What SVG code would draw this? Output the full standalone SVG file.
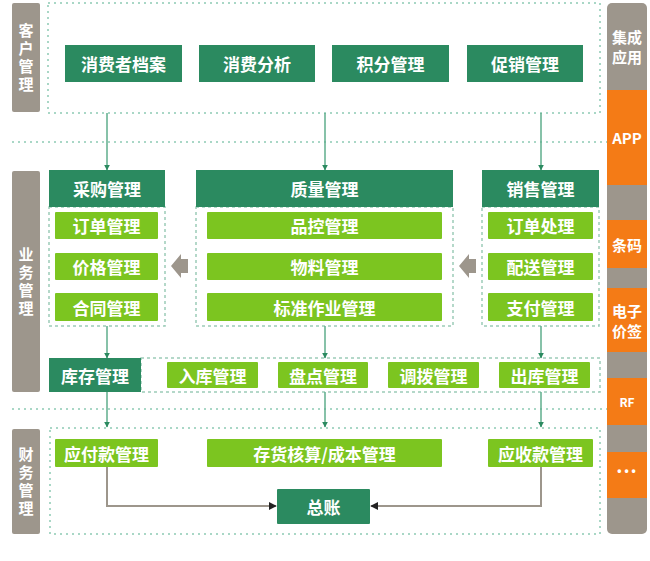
<svg xmlns="http://www.w3.org/2000/svg" width="650" height="561" viewBox="0 0 650 561">
<defs>
<style>
.dk{fill:#2b8a60}
.lt{fill:#7cc520}
.gr{fill:#9d968c}
.or{fill:#f47b16}
.t{font-family:"Noto Sans CJK SC","Noto Sans",sans-serif;font-weight:bold;fill:#fff;text-anchor:middle;dominant-baseline:central}
.b{font-size:17px}
.s{font-size:17px}
.v{font-size:15px;writing-mode:vertical-rl;letter-spacing:3px}
.r{font-size:15px}
.dot{fill:none;stroke:#a9d7c6;stroke-width:2;stroke-dasharray:2,4}
.dash{fill:none;stroke:#9ccbb8;stroke-width:1.5;stroke-dasharray:3,3}
.gl{stroke:#5fae8c;stroke-width:1.5;fill:none}
.fl{stroke:#9d968c;stroke-width:2;fill:none}
</style>
<marker id="ga" viewBox="0 0 10 10" refX="9" refY="5" markerWidth="6" markerHeight="6" orient="auto" markerUnits="userSpaceOnUse"><path d="M0,0L10,5L0,10z" fill="#2b8a60"/></marker>
<marker id="ka" viewBox="0 0 10 10" refX="9" refY="5" markerWidth="8" markerHeight="8" orient="auto" markerUnits="userSpaceOnUse"><path d="M0,0L10,5L0,10z" fill="#222"/></marker>
</defs>
<rect width="650" height="561" fill="#fff"/>

<!-- section frames -->
<g id="frames">
<rect class="dot" x="48" y="3" width="552" height="110"/>
<line class="dot" x1="12" y1="142" x2="607" y2="142"/>
<line class="dot" x1="12" y1="409" x2="607" y2="409"/>
<rect class="dot" x="50" y="428" width="550" height="106"/>
<rect class="dash" x="49" y="207" width="116" height="119"/>
<rect class="dash" x="196" y="207" width="257" height="119"/>
<rect class="dash" x="482" y="207" width="117" height="119"/>
<rect class="dash" x="141" y="358" width="459" height="34"/>
</g>

<!-- left labels -->
<g id="lbl-customer"><rect class="gr" x="12" y="3" width="28" height="109" rx="2"/>
<text class="t v" x="26" y="59">客户管理</text></g>
<g id="lbl-business"><rect class="gr" x="12" y="171" width="28" height="221" rx="2"/>
<text class="t v" x="26" y="283">业务管理</text></g>
<g id="lbl-finance"><rect class="gr" x="12" y="429" width="28" height="105" rx="2"/>
<text class="t v" x="26" y="483">财务管理</text></g>

<!-- right column -->
<g id="right-col">
<rect class="gr" x="607" y="3" width="40" height="531" rx="5"/>
<rect class="or" x="607" y="90" width="40" height="95"/>
<rect class="or" x="607" y="220" width="40" height="48"/>
<rect class="or" x="607" y="288" width="40" height="64"/>
<rect class="or" x="607" y="378" width="40" height="47"/>
<rect class="or" x="607" y="452" width="40" height="46"/>
<text class="t r" x="627" y="36">集成</text>
<text class="t r" x="627" y="56">应用</text>
<text class="t r" x="627" y="137">APP</text>
<text class="t r" x="627" y="244">条码</text>
<text class="t r" x="627" y="310">电子</text>
<text class="t r" x="627" y="330">价签</text>
<text class="t" style="font-size:12px" x="627" y="401">RF</text>
<text class="t" style="font-size:12px;font-family:'Liberation Sans',sans-serif;letter-spacing:3px" x="628" y="471">•••</text>
</g>

<!-- customer nodes -->
<g id="n-archive"><rect class="dk" x="65" y="45" width="117" height="37"/><text class="t b" x="123.5" y="63.5">消费者档案</text></g>
<g id="n-analysis"><rect class="dk" x="199" y="45" width="116" height="37"/><text class="t b" x="257" y="63.5">消费分析</text></g>
<g id="n-points"><rect class="dk" x="332" y="45" width="117" height="37"/><text class="t b" x="390.5" y="63.5">积分管理</text></g>
<g id="n-promo"><rect class="dk" x="467" y="45" width="116" height="37"/><text class="t b" x="525" y="63.5">促销管理</text></g>

<!-- business nodes -->
<g id="n-purchase"><rect class="dk" x="49" y="170" width="116" height="37"/><text class="t b" x="107" y="188.5">采购管理</text></g>
<g id="n-p-order"><rect class="lt" x="55" y="212" width="103" height="27" rx="1"/><text class="t s" x="106.5" y="225.5">订单管理</text></g>
<g id="n-p-price"><rect class="lt" x="55" y="253" width="103" height="27" rx="1"/><text class="t s" x="106.5" y="266.5">价格管理</text></g>
<g id="n-p-contract"><rect class="lt" x="55" y="293" width="103" height="28" rx="1"/><text class="t s" x="106.5" y="307">合同管理</text></g>

<g id="n-quality"><rect class="dk" x="196" y="170" width="257" height="37"/><text class="t b" x="324.5" y="188.5">质量管理</text></g>
<g id="n-q-control"><rect class="lt" x="207" y="212" width="235" height="27" rx="1"/><text class="t s" x="324.5" y="225.5">品控管理</text></g>
<g id="n-q-material"><rect class="lt" x="207" y="253" width="235" height="27" rx="1"/><text class="t s" x="324.5" y="266.5">物料管理</text></g>
<g id="n-q-sop"><rect class="lt" x="207" y="293" width="235" height="28" rx="1"/><text class="t s" x="324.5" y="307">标准作业管理</text></g>

<g id="n-sales"><rect class="dk" x="482" y="170" width="117" height="37"/><text class="t b" x="540.5" y="188.5">销售管理</text></g>
<g id="n-s-order"><rect class="lt" x="488" y="212" width="105" height="27" rx="1"/><text class="t s" x="540.5" y="225.5">订单处理</text></g>
<g id="n-s-delivery"><rect class="lt" x="488" y="253" width="105" height="27" rx="1"/><text class="t s" x="540.5" y="266.5">配送管理</text></g>
<g id="n-s-pay"><rect class="lt" x="488" y="293" width="105" height="28" rx="1"/><text class="t s" x="540.5" y="307">支付管理</text></g>

<!-- inventory row -->
<g id="n-inventory"><rect class="dk" x="49" y="358" width="92" height="34"/><text class="t b" x="95" y="375">库存管理</text></g>
<g id="n-inbound"><rect class="lt" x="167" y="362" width="91" height="26" rx="1"/><text class="t s" x="212.5" y="375">入库管理</text></g>
<g id="n-count"><rect class="lt" x="278" y="362" width="90" height="26" rx="1"/><text class="t s" x="323" y="375">盘点管理</text></g>
<g id="n-transfer"><rect class="lt" x="388" y="362" width="91" height="26" rx="1"/><text class="t s" x="433.5" y="375">调拨管理</text></g>
<g id="n-outbound"><rect class="lt" x="499" y="362" width="91" height="26" rx="1"/><text class="t s" x="544.5" y="375">出库管理</text></g>

<!-- finance -->
<g id="n-payable"><rect class="lt" x="55" y="439" width="103" height="28" rx="1"/><text class="t s" x="106.5" y="453">应付款管理</text></g>
<g id="n-cost"><rect class="lt" x="207" y="439" width="235" height="28" rx="1"/><text class="t s" x="324.5" y="453">存货核算/成本管理</text></g>
<g id="n-receivable"><rect class="lt" x="488" y="439" width="105" height="28" rx="1"/><text class="t s" x="540.5" y="453">应收款管理</text></g>
<g id="n-ledger"><rect class="dk" x="277" y="489" width="93" height="35" rx="1"/><text class="t b" x="323.5" y="506.5">总账</text></g>

<!-- connectors -->
<g id="connectors">
<line class="gl" x1="107" y1="113" x2="107" y2="170" marker-end="url(#ga)"/>
<line class="gl" x1="325" y1="113" x2="325" y2="170" marker-end="url(#ga)"/>
<line class="gl" x1="541" y1="113" x2="541" y2="170" marker-end="url(#ga)"/>
<line class="gl" x1="107" y1="326" x2="107" y2="358" marker-end="url(#ga)"/>
<line class="gl" x1="325" y1="326" x2="325" y2="358" marker-end="url(#ga)"/>
<line class="gl" x1="541" y1="326" x2="541" y2="358" marker-end="url(#ga)"/>
<line class="gl" x1="107" y1="392" x2="107" y2="427" marker-end="url(#ga)"/>
<line class="gl" x1="325" y1="392" x2="325" y2="427" marker-end="url(#ga)"/>
<line class="gl" x1="541" y1="392" x2="541" y2="427" marker-end="url(#ga)"/>
<polyline class="fl" points="107,467 107,506 276,506" marker-end="url(#ka)"/>
<polyline class="fl" points="541,467 541,506 371,506" marker-end="url(#ka)"/>
<polygon fill="#9d968c" points="171,266 181,254 181,259 188,259 188,273 181,273 181,278"/>
<polygon fill="#9d968c" points="459,266 469,254 469,259 476,259 476,273 469,273 469,278"/>
</g>
</svg>
